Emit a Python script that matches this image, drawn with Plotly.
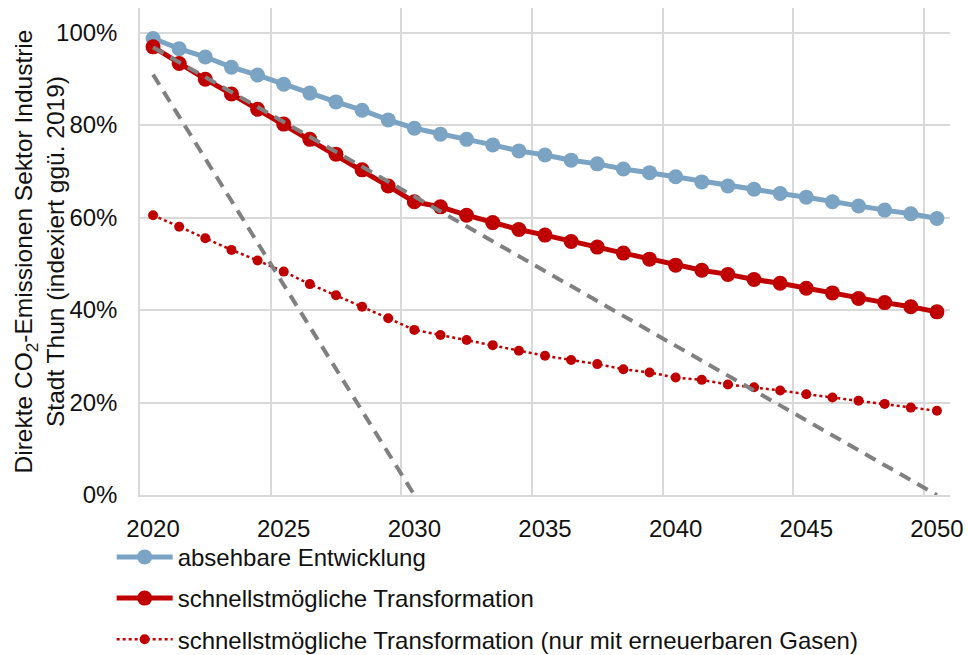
import plotly.graph_objects as go

years = list(range(2020, 2051))

absehbar = [98.7, 96.5, 94.7, 92.5, 90.8, 88.8, 86.9, 85.0, 83.2, 81.1, 79.3,
            78.0, 76.9, 75.7, 74.4, 73.5, 72.4, 71.6, 70.5, 69.7, 68.8,
            67.7, 66.8, 66.1, 65.2, 64.4, 63.4, 62.5, 61.6, 60.8, 59.8]

schnell = [96.9, 93.3, 89.9, 86.7, 83.4, 80.2, 76.9, 73.7, 70.3, 66.8, 63.4,
           62.3, 60.5, 58.9, 57.4, 56.2, 54.8, 53.6, 52.3, 51.0, 49.7,
           48.6, 47.7, 46.6, 45.8, 44.7, 43.7, 42.5, 41.6, 40.7, 39.6]

schnell_ee = [60.5, 58.0, 55.5, 53.0, 50.7, 48.3, 45.6, 43.2, 40.7, 38.2, 35.7,
              34.6, 33.5, 32.4, 31.2, 30.1, 29.2, 28.3, 27.2, 26.5, 25.4,
              24.9, 23.9, 23.3, 22.6, 21.8, 21.1, 20.4, 19.7, 18.9, 18.2]

pfad2030_x = [2020, 2030]
pfad2030_y = [90.9, 0]
pfad2050_x = [2020, 2050]
pfad2050_y = [96.8, 0]

x_ticks = [2020, 2025, 2030, 2035, 2040, 2045, 2050]
x_grid = [2019.5, 2024.5, 2029.5, 2034.5, 2039.5, 2044.5, 2049.5]
y_ticks = [0, 20, 40, 60, 80, 100]
y_labels = ["0%", "20%", "40%", "60%", "80%", "100%"]

y_title = "Direkte CO<sub>2</sub>-Emissionen Sektor Industrie<br>Stadt Thun (indexiert ggü. 2019)"

BLUE = "#7aa3c4"
RED = "#c00000"
GRAY = "#808080"
FONT = "Liberation Sans, Arial, sans-serif"

fig = go.Figure()
fig.add_trace(go.Scatter(x=years, y=absehbar, mode="lines+markers",
                         name="absehbare Entwicklung", legendgroup="a",
                         line=dict(color=BLUE, width=5),
                         marker=dict(color=BLUE, size=15)))
fig.add_trace(go.Scatter(x=years, y=schnell, mode="lines+markers",
                         name="schnellstmögliche Transformation", legendgroup="b",
                         line=dict(color=RED, width=5),
                         marker=dict(color=RED, size=15)))
fig.add_trace(go.Scatter(x=years, y=schnell_ee, mode="lines+markers",
                         name="schnellstmögliche Transformation (nur mit erneuerbaren Gasen)",
                         legendgroup="c",
                         line=dict(color=RED, width=2.5, dash="dot"),
                         marker=dict(color=RED, size=10)))
fig.add_trace(go.Scatter(x=pfad2030_x, y=pfad2030_y, mode="lines", showlegend=False,
                         line=dict(color=GRAY, width=4, dash="12px,8px")))
fig.add_trace(go.Scatter(x=pfad2050_x, y=pfad2050_y, mode="lines", showlegend=False,
                         line=dict(color=GRAY, width=4, dash="12px,8px")))

fig.update_layout(
    width=968, height=655,
    margin=dict(l=140, r=18, t=8, b=160, autoexpand=False),
    paper_bgcolor="white", plot_bgcolor="white",
    font=dict(family=FONT, size=24, color="#111111"),
    showlegend=True,
    legend=dict(x=-0.035, y=0.1835, xref="paper", yref="container",
                xanchor="left", yanchor="top",
                orientation="v", tracegroupgap=7, itemwidth=56,
                font=dict(size=24), bgcolor="rgba(0,0,0,0)"),
    annotations=[dict(text=y_title, xref="paper", yref="paper",
                      x=-0.1235, y=0.5, xanchor="center", yanchor="middle",
                      textangle=-90, showarrow=False,
                      font=dict(size=24.5, color="#111111"))],
)
fig.update_xaxes(range=[2019.5, 2050.5], tickmode="array", tickvals=x_ticks,
                 showgrid=False, showline=True, linecolor="#d9d9d9", linewidth=1.5,
                 ticks="", tickfont=dict(size=24), ticklabelstandoff=11,
                 automargin=False,
                 minor=dict(tickmode="array", tickvals=x_grid, showgrid=True,
                            gridcolor="#d9d9d9", gridwidth=1.5, ticks=""),
                 zeroline=False)
fig.update_yaxes(range=[0, 105.3], tickmode="array", tickvals=y_ticks,
                 ticktext=y_labels, showgrid=True, gridcolor="#d9d9d9", gridwidth=1.5,
                 showline=True, linecolor="#d9d9d9", linewidth=1.5, ticks="",
                 automargin=False,
                 tickfont=dict(size=24), zeroline=False, ticklabelstandoff=16)

fig.write_html("out.html", config={"displayModeBar": False},
               post_script="document.body.style.margin='0px';")
